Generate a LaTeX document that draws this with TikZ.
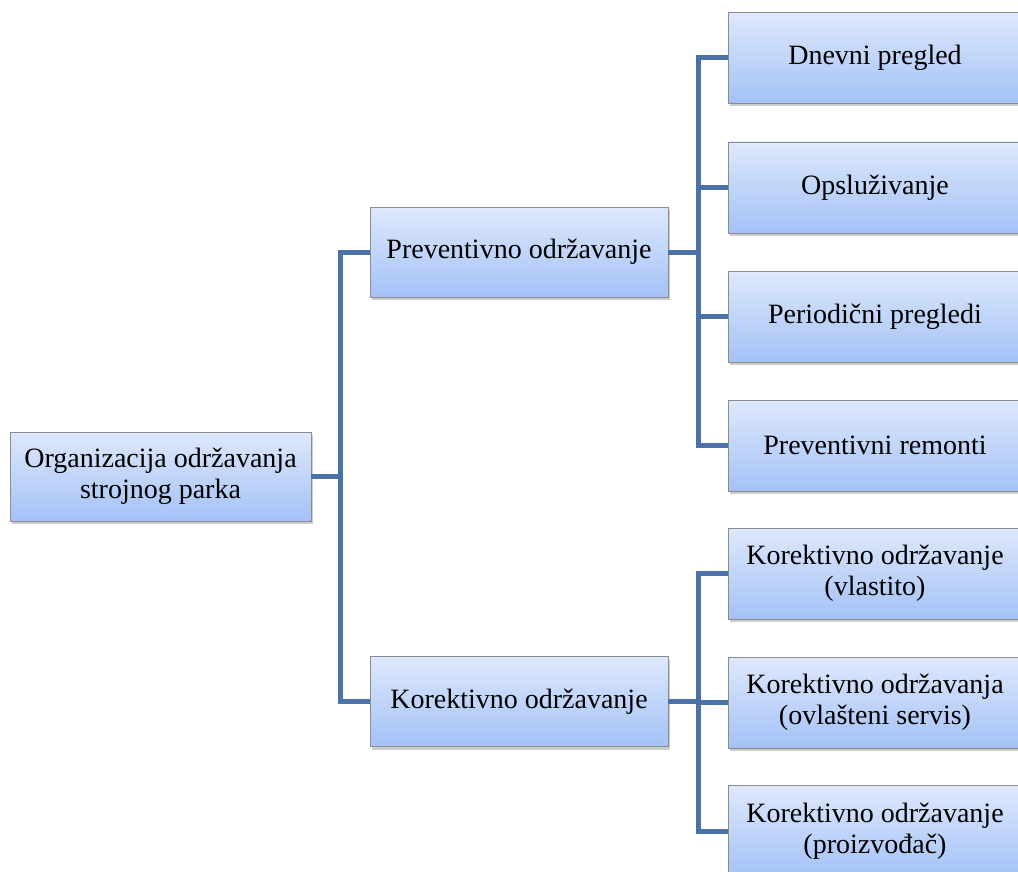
\documentclass[tikz,border=0pt]{standalone}
\usepackage{fontspec}
\setmainfont{Liberation Serif}
\usetikzlibrary{shadows}
\definecolor{boxtop}{RGB}{222,232,252}
\definecolor{boxbot}{RGB}{163,194,246}
\definecolor{linkblue}{RGB}{74,114,168}

\begin{document}
\begin{tikzpicture}[x=1pt,y=-1pt]
\tikzstyle{every node}+=[inner sep=0pt]
\tikzstyle{box}=[draw=black!45, line width=0.8pt, top color=boxtop, bottom color=boxbot,
  drop shadow={shadow xshift=2pt, shadow yshift=-3pt, opacity=0.4}, align=center,
  font=\fontsize{28}{31}\selectfont]
\tikzstyle{link}=[draw=linkblue, line width=5pt]
\useasboundingbox (0,0) rectangle (1018,872);
\node [box, minimum width=301pt, minimum height=89pt] (org) at (160.5,476.5) {Organizacija održavanja\\strojnog parka};
\node [box, minimum width=298pt, minimum height=90pt] (prev) at (519,252) {Preventivno održavanje};
\node [box, minimum width=298pt, minimum height=90pt] (kor) at (519,701.5) {Korektivno održavanje};
\node [box, minimum width=294pt, minimum height=91pt] (p1) at (875,58) {Dnevni pregled};
\node [box, minimum width=294pt, minimum height=91pt] (p2) at (875,187.5) {Opsluživanje};
\node [box, minimum width=294pt, minimum height=91pt] (p3) at (875,316.5) {Periodični pregledi};
\node [box, minimum width=294pt, minimum height=91pt] (p4) at (875,445.5) {Preventivni remonti};
\node [box, minimum width=294pt, minimum height=91pt] (k1) at (875,573.5) {Korektivno održavanje\\(vlastito)};
\node [box, minimum width=294pt, minimum height=91pt] (k2) at (875,702.5) {Korektivno održavanja\\(ovlašteni servis)};
\node [box, minimum width=294pt, minimum height=91pt] (k3) at (875,831) {Korektivno održavanje\\(proizvođač)};
\draw [link] (org.east) -- ++(29,0) coordinate (b0);
\draw [link] (b0) |- (prev.west);
\draw [link] (b0) |- (kor.west);
\draw [link] (prev.east) -- ++(30,0) coordinate (b1);
\foreach \n in {p1,p2,p3,p4}
  \draw [link] (b1) |- (\n.west);
\draw [link] (kor.east) -- ++(30,0) coordinate (b2);
\foreach \n in {k1,k2,k3}
  \draw [link] (b2) |- (\n.west);
\end{tikzpicture}
\end{document}
